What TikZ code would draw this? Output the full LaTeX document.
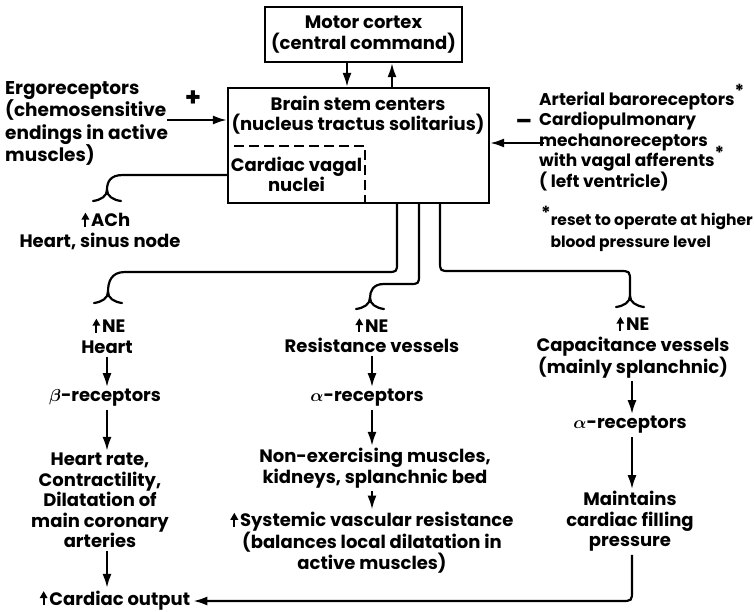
\documentclass[tikz,border=0pt]{standalone}
\usepackage{fontspec}
\setmainfont{Poppins}
\usetikzlibrary{arrows.meta}
\newcommand{\upa}{\tikz[baseline=0pt,x=1pt,y=1pt]\draw[line width=2pt,-{Triangle[length=7pt,width=7.5pt]}] (0,0) -- (0,14);\kern2pt}
\newcommand{\myast}{\smash{\raisebox{0.42em}{\fontsize{18}{18}\selectfont\bfseries *}}}
\tikzset{
  txt/.style={align=center, inner sep=0pt, font=\fontsize{18}{20.5}\selectfont\bfseries\boldmath},
  boxed/.style={draw, line width=2.2pt, inner sep=0pt},
  arr/.style={line width=2.2pt, -{Latex[length=14pt,width=9pt]}},
  nerve/.style={line width=2.2pt, line cap=round, line join=round},
  forkpic/.pic={
    \draw[nerve] (0,0) .. controls (0,6) and (-6,10) .. (-14,11);
    \draw[nerve] (0,0) .. controls (0,6) and (6,10) .. (14,11);
  }
}
\begin{document}
\begin{tikzpicture}[x=1pt,y=-1pt]
\useasboundingbox (0,0) rectangle (754,612);
% top boxes
\node[boxed, txt, minimum width=197pt, minimum height=55pt] (mc) at (363.5,34.5) {Motor cortex\\(central command)};
\node[boxed, minimum width=261pt, minimum height=115pt] (bs) at (358.5,145.5) {};
\node[txt] (bst) at (358,115) {Brain stem centers\\(nucleus tractus solitarius)};
\node[draw, line width=2.2pt, dash pattern=on 10pt off 5pt, txt, minimum width=137pt, minimum height=57pt] (cvn) at (296.5,174.5) {Cardiac vagal\\nuclei};
\draw[arr] (mc.south -| 347,0) -- (bs.north -| 347,0);
\draw[arr] (bs.north -| 392,0) -- (mc.south -| 392,0);
% left input
\node[txt, align=left, anchor=west, font=\fontsize{18.5}{22.3}\selectfont\bfseries] (ergo) at (5,123.5) {Ergoreceptors\\(chemosensitive\\endings in active\\muscles)};
\node[txt, font=\fontsize{26}{26}\bfseries] (plus) at (193,99) {+};
\draw[arr] (167,120) -- (bs.west |- 0,120);
% right input
\node[txt, align=left, anchor=west, font=\fontsize{17}{20.5}\selectfont\bfseries] (baro) at (539,141) {Arterial baroreceptors\myast\\Cardiopulmonary\\mechanoreceptors\\with vagal afferents\myast\\(~left ventricle)};
\node[txt, font=\fontsize{24}{24}\bfseries] (minus) at (524,124) {--};
\draw[arr] (544,143) -- (bs.east |- 0,143);
\node[txt, align=left, anchor=north west, font=\fontsize{15.5}{22}\selectfont\bfseries] (note) at (541,213) {\myast reset to operate at higher\\\hspace*{0.6em}blood pressure level};
% vagal branch
\draw[nerve] (cvn.west |- 0,175) -- (123,175) .. controls (110,175) and (107,182) .. (107,190);
\pic at (107,190) {forkpic};
\node[txt] (ach) at (100,230.5) {\hspace*{12pt}\upa ACh\\Heart, sinus node};
% sympathetic branches
\draw[nerve] (bs.south -| 397,0) -- (397,262) .. controls (397,272) .. (387,272) -- (125,272) .. controls (111,272) and (108,282) .. (108,292);
\pic at (108,292) {forkpic};
\draw[nerve] (bs.south -| 419,0) -- (419,274) .. controls (419,284) .. (409,284) -- (384,284) .. controls (373,284) and (370,291) .. (370,298);
\pic at (370,298) {forkpic};
\draw[nerve] (bs.south -| 440,0) -- (440,261) .. controls (440,271) .. (450,271) -- (619,271) .. controls (630,271) .. (630,282) -- (630,296);
\pic at (630,296) {forkpic};
% left column
\node[txt] (ne1) at (107,335.5) {\hspace*{4pt}\upa NE\\Heart};
\node[txt] (beta) at (105,398) {$\beta$-receptors};
\node[txt] (hr) at (100,500.5) {Heart rate,\\Contractility,\\Dilatation of\\main coronary\\arteries};
\node[txt] (co) at (115,600) {\upa Cardiac output};
\draw[arr, shorten <=3pt, shorten >=2pt] (ne1.south -| 107,0) -- (beta.north -| 107,0);
\draw[arr, shorten <=3pt, shorten >=2pt] (beta.south -| 107,0) -- (hr.north -| 107,0);
\draw[arr, shorten <=3pt, shorten >=2pt] (hr.south -| 107,0) -- (co.north -| 107,0);
% middle column
\node[txt] (ne2) at (372,335) {\upa NE\\Resistance vessels};
\node[txt] (al2) at (367,398) {$\alpha$-receptors};
\node[txt] (nonex) at (375,468) {Non-exercising muscles,\\kidneys, splanchnic bed};
\node[txt] (svr) at (372,542.5) {\upa Systemic vascular resistance\\(balances local dilatation in\\active muscles)};
\draw[arr, shorten <=3pt, shorten >=2pt] (ne2.south -| 372,0) -- (al2.north -| 372,0);
\draw[arr, shorten <=3pt, shorten >=2pt] (al2.south -| 372,0) -- (nonex.north -| 372,0);
\draw[arr, shorten <=3pt, shorten >=2pt] (nonex.south -| 372,0) -- (svr.north -| 372,0);
% right column
\node[txt] (ne3) at (633,347) {\upa NE\\Capacitance vessels\\(mainly splanchnic)};
\node[txt] (al3) at (630,425) {$\alpha$-receptors};
\node[txt] (maint) at (630,521.5) {Maintains\\cardiac filling\\pressure};
\draw[arr, shorten <=3pt, shorten >=2pt] (ne3.south -| 632,0) -- (al3.north -| 632,0);
\draw[arr, shorten <=3pt, shorten >=2pt] (al3.south -| 632,0) -- (maint.north -| 632,0);
\draw[arr] ([yshift=-3pt]maint.south -| 632,0) -- (632,590) .. controls (632,601) .. (621,601) -- ([xshift=3pt]co.east |- 0,601);
\end{tikzpicture}
\end{document}
